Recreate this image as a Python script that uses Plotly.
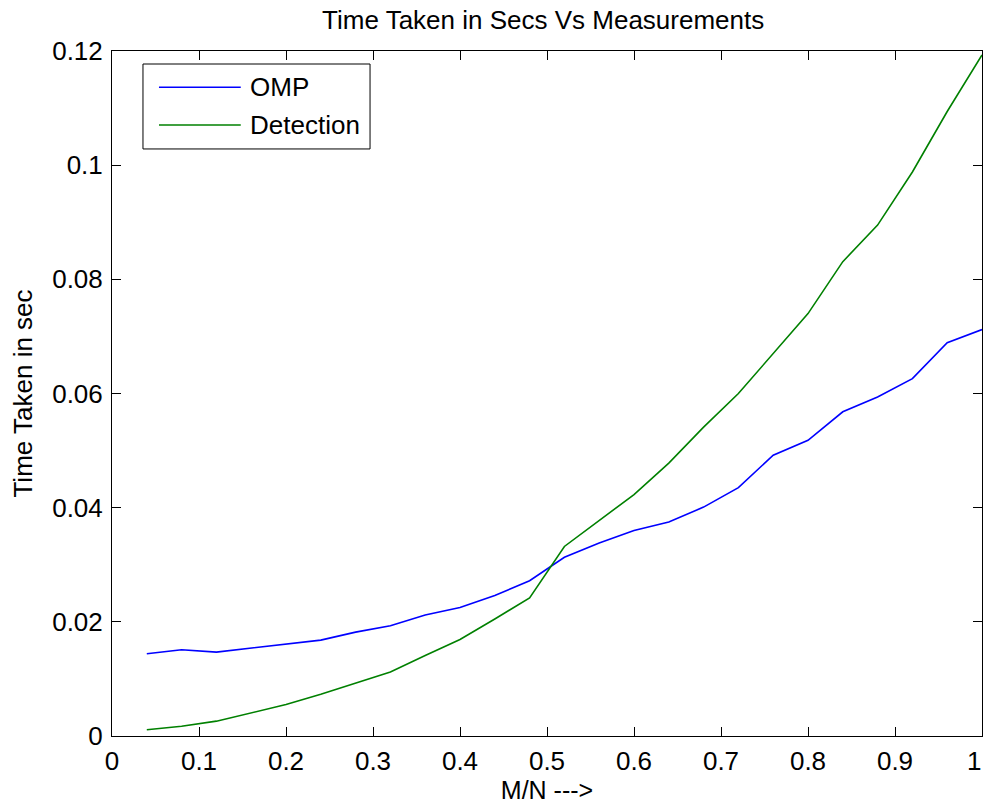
import plotly.graph_objects as go

# M/N ratio sampled every 0.04
m_over_n = [0.04, 0.08, 0.12, 0.16, 0.20, 0.24, 0.28, 0.32, 0.36, 0.40,
            0.44, 0.48, 0.52, 0.56, 0.60, 0.64, 0.68, 0.72, 0.76, 0.80,
            0.84, 0.88, 0.92, 0.96, 1.00]

# time taken (seconds)
omp_time = [0.0144, 0.0151, 0.0147, 0.0154, 0.0161, 0.0168, 0.0182, 0.0193,
            0.0212, 0.0225, 0.0246, 0.0272, 0.0313, 0.0338, 0.0360, 0.0375,
            0.0401, 0.0435, 0.0492, 0.0518, 0.0568, 0.0594, 0.0626, 0.0689,
            0.0712]
detection_time = [0.0011, 0.0017, 0.0026, 0.0041, 0.0055, 0.0073, 0.0092,
                  0.0112, 0.0141, 0.0169, 0.0205, 0.0242, 0.0332, 0.0378,
                  0.0423, 0.0478, 0.0541, 0.0600, 0.0670, 0.0740, 0.0831,
                  0.0895, 0.0988, 0.1094, 0.1193]

x_ticks = [0, 0.1, 0.2, 0.3, 0.4, 0.5, 0.6, 0.7, 0.8, 0.9, 1]
x_tick_text = ["0", "0.1", "0.2", "0.3", "0.4", "0.5", "0.6", "0.7", "0.8", "0.9", "1"]
y_ticks = [0, 0.02, 0.04, 0.06, 0.08, 0.1, 0.12]
y_tick_text = ["0", "0.02", "0.04", "0.06", "0.08", "0.1", "0.12"]

series_names = ["OMP", "Detection"]
series_colors = ["#0000ff", "#008000"]

FONT = "Liberation Sans, Arial, sans-serif"
FS = 26

fig = go.Figure()
for name, ys, col in zip(series_names, [omp_time, detection_time], series_colors):
    fig.add_trace(go.Scatter(x=m_over_n, y=ys, mode="lines", name=name,
                             line=dict(color=col, width=1.6), showlegend=False))

axis_common = dict(showline=True, linecolor="black", linewidth=1, mirror="allticks",
                   ticks="inside", ticklen=9, tickcolor="black", tickwidth=1,
                   showgrid=False, zeroline=False, automargin=False,
                   tickfont=dict(family=FONT, size=FS, color="black"))

# the last x label sits flush with the right edge, so it is drawn separately
fig.update_xaxes(range=[0, 1], tickvals=x_ticks, ticktext=x_tick_text[:-1] + [""],
                 ticklabelstandoff=2,
                 title=dict(text="M/N --->", font=dict(family=FONT, size=FS - 1, color="black"), standoff=8),
                 **axis_common)
fig.add_annotation(xref="x", yref="paper", x=x_ticks[-1], y=0, text=x_tick_text[-1],
                   showarrow=False, xanchor="right", yanchor="middle", yshift=-25, xshift=1,
                   font=dict(family=FONT, size=FS, color="black"))

fig.update_yaxes(range=[0, 0.12], tickvals=y_ticks, ticktext=y_tick_text,
                 ticklabelstandoff=3,
                 title=dict(text="Time Taken in sec", font=dict(family=FONT, size=FS, color="black"), standoff=12),
                 **axis_common)

# boxed legend in the upper-left corner
lx0, lx1, ly0, ly1 = 0.0356, 0.2966, 0.857, 0.981
fig.add_shape(type="rect", xref="paper", yref="paper", x0=lx0, x1=lx1, y0=ly0, y1=ly1,
              line=dict(color="black", width=1), fillcolor="white", layer="above")
legend_rows = [0.947, 0.892]
for name, col, yy in zip(series_names, series_colors, legend_rows):
    fig.add_shape(type="line", xref="paper", yref="paper", x0=0.054, x1=0.148, y0=yy, y1=yy,
                  line=dict(color=col, width=1.6), layer="above")
    fig.add_annotation(xref="paper", yref="paper", x=0.1563, y=yy, text=name, showarrow=False,
                       xanchor="left", yanchor="middle",
                       font=dict(family=FONT, size=FS, color="black"))

fig.update_layout(
    width=984, height=804,
    margin=dict(l=112, r=2, t=51, b=68, autoexpand=False),
    paper_bgcolor="white", plot_bgcolor="white",
    title=dict(text="Time Taken in Secs Vs Measurements", x=0.552, xanchor="center",
               y=0.975, yanchor="middle", font=dict(family=FONT, size=FS, color="black")),
)

fig.write_html("out.html")
